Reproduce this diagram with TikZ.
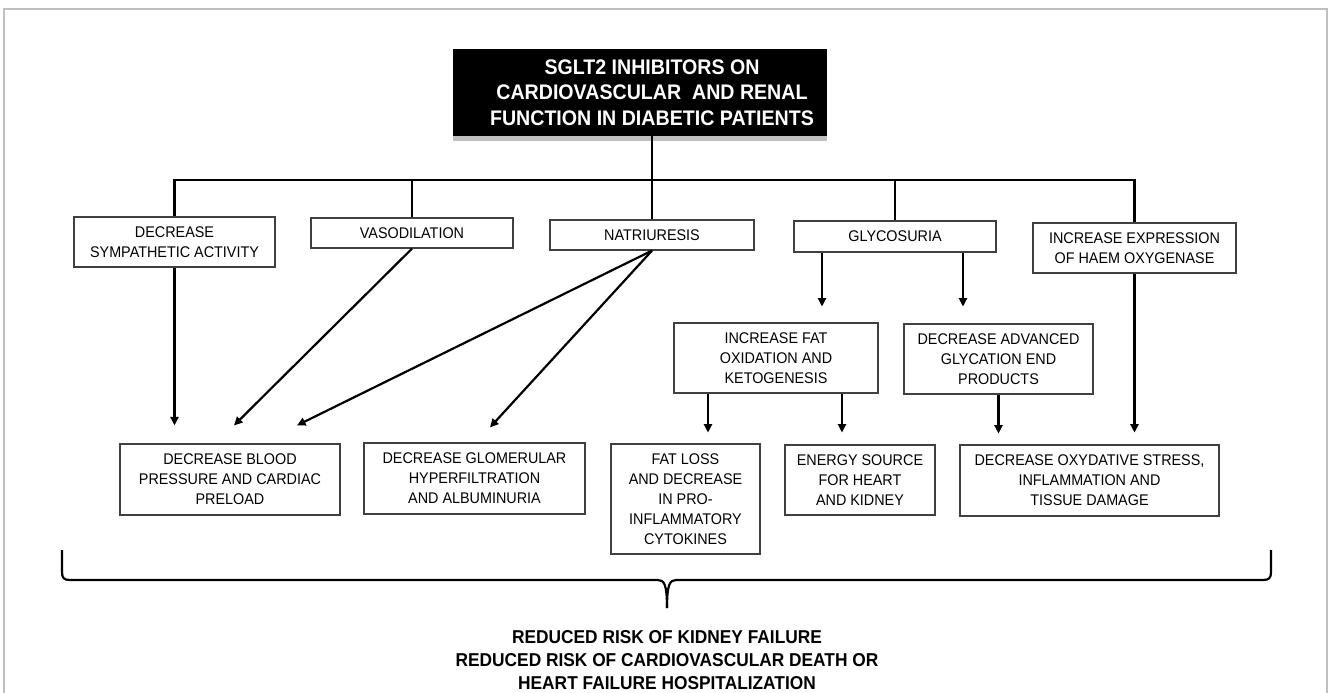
\documentclass[tikz,border=0pt]{standalone}
\usepackage{fontspec}
\setmainfont{Liberation Sans}[FakeStretch=0.93]
\usetikzlibrary{arrows.meta,calc,shadows}

\begin{document}
\begin{tikzpicture}[x=0.02cm,y=-0.02cm,
    box/.style={draw=black!75,line width=0.7pt,align=center,inner sep=0pt,font=\fontsize{8.8}{11.3}\selectfont},
    link/.style={line width=1.25pt},
    arr/.style={link,-{Triangle[length=1.7mm,width=1.6mm]}}]
  \useasboundingbox (0,0) rectangle (1330,693);
  \draw[black!25,line width=1pt] (4,693) -- (4,9) -- (1327,9) -- (1327,693);
  \node[fill=black,minimum width=7.48cm,minimum height=1.74cm,
    drop shadow={shadow xshift=0pt,shadow yshift=-3pt,opacity=0.5},
    label={[white,align=center,font=\bfseries\fontsize{12}{14.5}\selectfont,xshift=0.24cm]center:{SGLT2 INHIBITORS ON\\CARDIOVASCULAR~ AND RENAL\\FUNCTION IN DIABETIC PATIENTS}}] (Title) at (640,92.5) {};
  \node[box,minimum width=4.02cm,minimum height=1cm] (Sym) at (174.5,242) {DECREASE\\SYMPATHETIC ACTIVITY};
  \node[box,minimum width=4.04cm,minimum height=0.6cm] (Vaso) at (412,233) {VASODILATION};
  \node[box,minimum width=4.08cm,minimum height=0.6cm] (Natri) at (652,235) {NATRIURESIS};
  \node[box,minimum width=4.04cm,minimum height=0.62cm] (Glyco) at (895,236.5) {GLYCOSURIA};
  \node[box,minimum width=4.06cm,minimum height=1cm] (Haem) at (1134.5,248) {INCREASE EXPRESSION\\OF HAEM OXYGENASE};
  \node[box,minimum width=4.08cm,minimum height=1.4cm] (Fat) at (776,358) {INCREASE FAT\\OXIDATION AND\\KETOGENESIS};
  \node[box,minimum width=3.78cm,minimum height=1.4cm] (Age) at (998.5,359) {DECREASE ADVANCED\\GLYCATION END\\PRODUCTS};
  \node[box,minimum width=4.4cm,minimum height=1.42cm] (Bp) at (230,479.5) {DECREASE BLOOD\\PRESSURE AND CARDIAC\\PRELOAD};
  \node[box,minimum width=4.42cm,minimum height=1.42cm] (Glom) at (474.5,478.5) {DECREASE GLOMERULAR\\HYPERFILTRATION\\AND ALBUMINURIA};
  \node[box,minimum width=2.98cm,minimum height=2.2cm] (Loss) at (685.5,499) {FAT LOSS\\AND DECREASE\\IN PRO-\\INFLAMMATORY\\CYTOKINES};
  \node[box,minimum width=3cm,minimum height=1.4cm] (Energy) at (860,480) {ENERGY SOURCE\\FOR HEART\\AND KIDNEY};
  \node[box,minimum width=5.18cm,minimum height=1.42cm] (Oxy) at (1089.5,480.5) {DECREASE OXYDATIVE STRESS,\\INFLAMMATION AND\\TISSUE DAMAGE};
  \coordinate (Bus) at (652,180);
  \draw[link] (Natri.north |- Title.south) -- (Natri.north);
  \draw[link] (Sym.north) |- (Haem.north |- Bus) -- (Haem.north);
  \draw[link] (Vaso.north) -- (Vaso.north |- Bus);
  \draw[link] (Glyco.north) -- (Glyco.north |- Bus);
  \draw[arr] (Sym.south) -- ($(Sym.south |- Bp.north)+(0,-18)$);
  \draw[arr] (Vaso.south) -- ($(Bp.north)+(4,-18)$);
  \draw[arr] (Natri.south) -- ($(Bp.north)+(67,-18)$);
  \draw[arr] (Natri.south) -- ($(Glom.north)+(15.5,-15)$);
  \draw[arr] ($(Glyco.south)+(-73,0)$) -- ++(0,54);
  \draw[arr] ($(Glyco.south)+(68,0)$) -- ++(0,54);
  \draw[arr] ($(Fat.south)+(-68,0)$) -- ++(0,39);
  \draw[arr] ($(Fat.south)+(66,0)$) -- ++(0,39);
  \draw[arr] (Age.south) -- ++(0,39);
  \draw[arr] (Haem.south) -- ++(0,159);
  \draw[link] (62,550) -- (62,572) .. controls (62,578) and (64,580) .. (70,580) -- (658,580) .. controls (664,580) and (667,584) .. (667,608);
  \draw[link] (1271,550) -- (1271,572) .. controls (1271,578) and (1269,580) .. (1263,580) -- (676,580) .. controls (670,580) and (667,584) .. (667,608);
  \node[align=center,font=\bfseries\fontsize{10.6}{13}\selectfont] (Risk) at (667,660) {REDUCED RISK OF KIDNEY FAILURE\\REDUCED RISK OF CARDIOVASCULAR DEATH OR\\HEART FAILURE HOSPITALIZATION};
\end{tikzpicture}
\end{document}
